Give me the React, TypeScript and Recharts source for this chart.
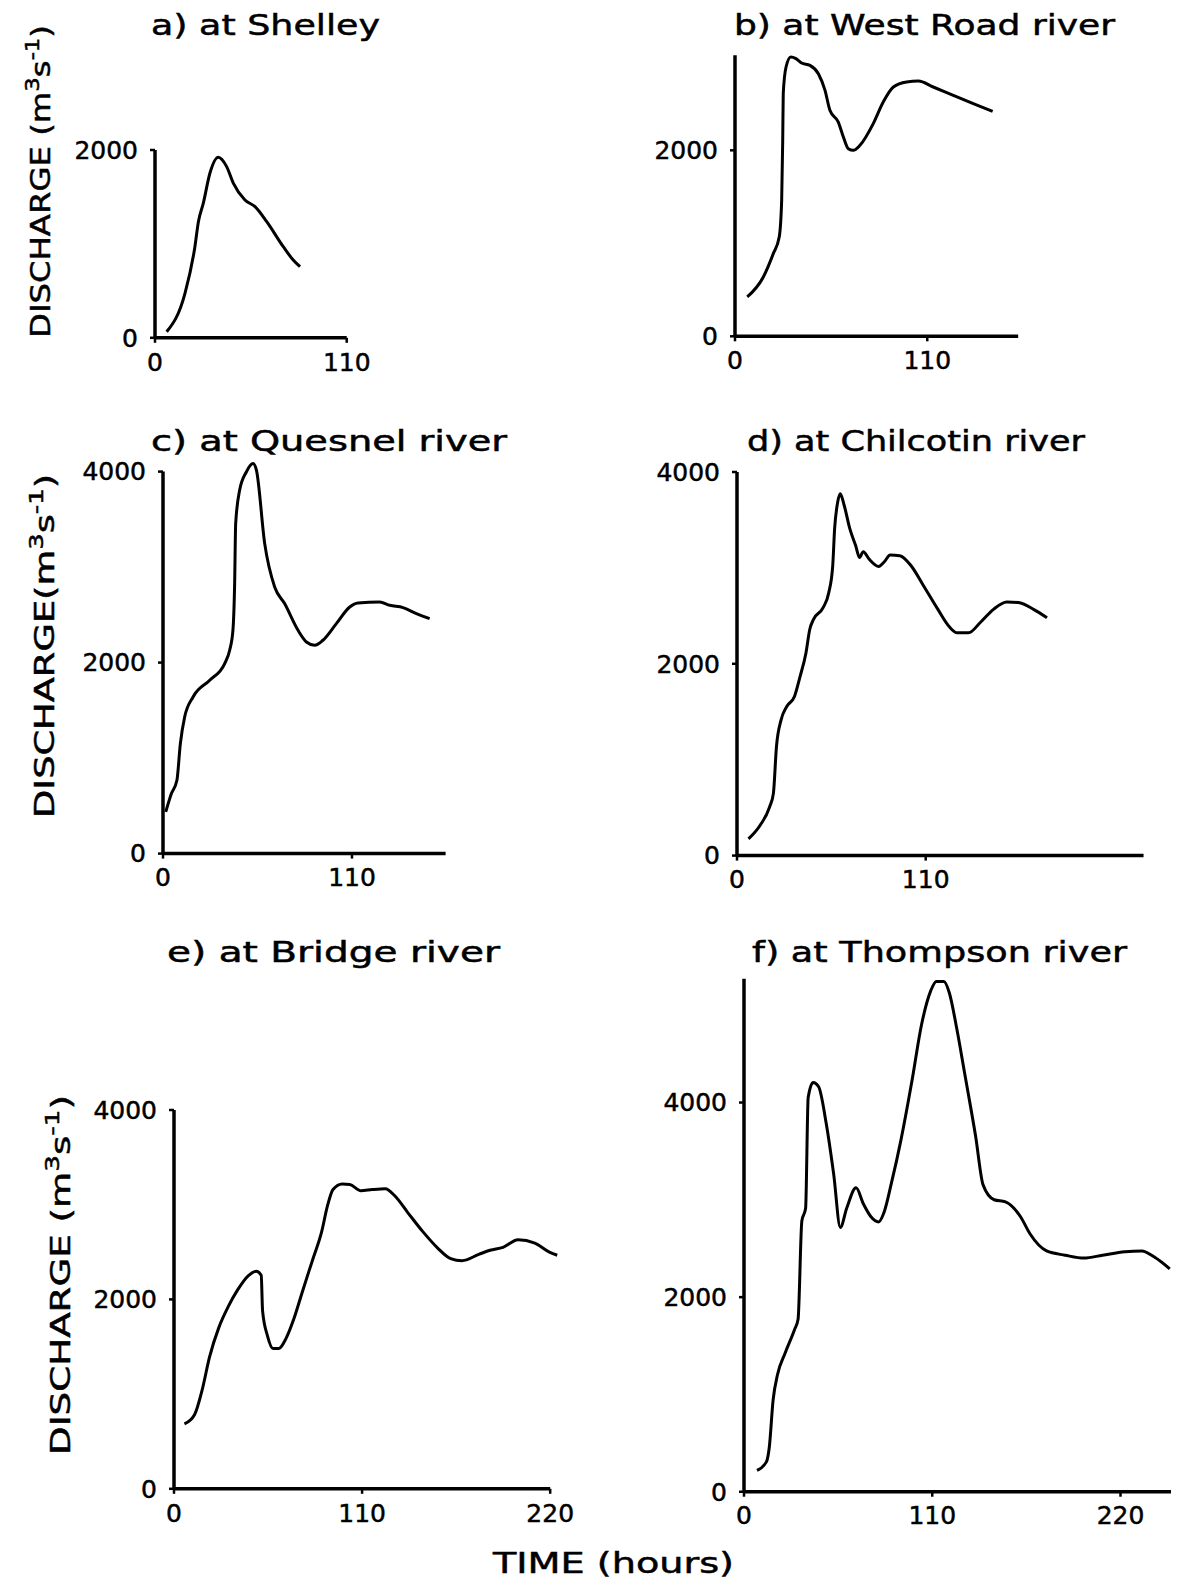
import React from 'react';
import { LineChart, Line, XAxis, YAxis, ReferenceLine } from 'recharts';

const FONT = '"DejaVu Sans", "Liberation Sans", sans-serif';

// a) Shelley
const shelleyHours = [6.7, 17.2, 22.9, 24.9, 27.7, 31.5, 36.3, 41.1, 45, 51.6, 57.4, 64.1, 73.6, 79.3, 83.2];
const shelleyFlow = [64, 473, 970, 1237, 1432, 1752, 1922, 1823, 1645, 1468, 1397, 1237, 970, 828, 757];

// b) West Road river
const westRoadHours = [7, 16.2, 21.9, 25.3, 26.7, 27.3, 27.6, 29.2, 31.9, 34.9, 38.1, 42.9, 47.7, 51.5, 54.3, 59.1, 62, 64.8, 67.7, 71.5, 79.1, 84.8, 90.6, 98.2, 104.9, 113.4, 124.9, 136.3, 147.4];
const westRoadFlow = [423, 638, 889, 1068, 1462, 2108, 2609, 2896, 3004, 2986, 2939, 2914, 2824, 2645, 2430, 2304, 2143, 2018, 2000, 2054, 2287, 2519, 2681, 2735, 2745, 2681, 2591, 2502, 2419];

// c) Quesnel river
const quesnelHours = [1.6, 4.9, 8.1, 10.1, 12.6, 17.5, 27.2, 35.9, 38.8, 40.7, 41.7, 42.3, 44.6, 48.5, 52.4, 54.4, 59.2, 65, 70.8, 78.6, 83.5, 88.3, 93.1, 100.9, 108.7, 113.5, 126.1, 132, 139.7, 147.5, 155.2];
const quesnelFlow = [436, 628, 768, 1152, 1430, 1640, 1815, 1990, 2129, 2338, 2827, 3455, 3804, 3996, 4084, 4014, 3246, 2792, 2618, 2338, 2216, 2181, 2234, 2408, 2582, 2624, 2635, 2600, 2576, 2513, 2461];

// d) Chilcotin river
const chilcotinHours = [6.7, 13.4, 19, 21.2, 23, 25.7, 29, 33.5, 36.8, 40.2, 42.4, 44.6, 50.2, 53.5, 55.8, 56.9, 58.7, 60.2, 62.5, 65.8, 69.2, 71.4, 73.6, 77, 82.6, 85.9, 89.3, 94.9, 101.5, 108.2, 117.1, 123.8, 128.3, 135, 141.7, 149.5, 157.3, 164, 172.9, 180.7];
const chilcotinFlow = [175, 314, 507, 646, 1135, 1415, 1555, 1659, 1869, 2113, 2358, 2463, 2585, 2742, 3022, 3406, 3686, 3773, 3651, 3406, 3231, 3109, 3169, 3092, 3015, 3064, 3134, 3127, 3022, 2830, 2568, 2386, 2323, 2323, 2428, 2568, 2645, 2638, 2568, 2480];

// e) Bridge river
const bridgeHours = [6.1, 12, 16.4, 20.8, 26.2, 31.7, 37.2, 43.7, 48.1, 51, 51.8, 54.7, 57.9, 61.2, 65.6, 70, 75.4, 80.9, 86.4, 89.7, 93, 98.4, 102.8, 109.3, 115.9, 123.6, 129.1, 136.7, 145.4, 154.2, 161.8, 168.4, 178.2, 184.8, 192.4, 201.2, 211, 219.8, 224.1];
const bridgeFlow = [685, 782, 1039, 1392, 1702, 1923, 2100, 2254, 2298, 2254, 1879, 1613, 1481, 1481, 1591, 1790, 2100, 2409, 2718, 2984, 3160, 3218, 3213, 3147, 3160, 3169, 3094, 2917, 2718, 2542, 2431, 2409, 2475, 2519, 2550, 2630, 2595, 2497, 2466];

// f) Thompson river
const thompsonHours = [7.6, 13.1, 14.8, 17, 19.6, 24, 29.5, 31.6, 33.8, 36, 37.5, 40.4, 43.6, 48, 52.4, 56.3, 60, 65.5, 69.8, 74.2, 78.6, 81.8, 86.2, 91.7, 98.2, 103.7, 109.1, 112.4, 116.8, 120, 124.4, 128.8, 131, 135.3, 139.7, 146.2, 152.8, 161.6, 167.1, 176.8, 187.7, 198.6, 209.5, 222.6, 232.4, 240, 248.8];
const thompsonFlow = [219, 307, 460, 942, 1205, 1424, 1665, 1774, 2782, 2913, 4053, 4206, 4162, 3790, 3264, 2716, 2913, 3124, 2957, 2826, 2773, 2870, 3176, 3614, 4228, 4797, 5148, 5244, 5244, 5126, 4753, 4315, 4096, 3658, 3154, 3001, 2979, 2826, 2651, 2475, 2431, 2401, 2431, 2467, 2475, 2410, 2291];

const hourTicksShort = [0, 110];
const hourTicksLong = [0, 110, 220];
const flowTicksLow = [0, 2000];
const flowTicksHigh = [0, 2000, 4000];

type PanelSpec = {
  hours: number[];
  flow: number[];
  xMax: number;
  yMax: number;
  xAxisEnd: number;
  yAxisTop: number;
  xTicks: number[];
  yTicks: number[];
  x0: number;
  y0: number;
  pxPerHour: number;
  pxPerUnit: number;
};

const panels: PanelSpec[] = [
  { hours: shelleyHours, flow: shelleyFlow, xMax: 110, yMax: 2000, xAxisEnd: 110, yAxisTop: 2000, xTicks: hourTicksShort, yTicks: flowTicksLow, x0: 155, y0: 337.5, pxPerHour: 1.743, pxPerUnit: 0.0939 },
  { hours: westRoadHours, flow: westRoadFlow, xMax: 162, yMax: 3025, xAxisEnd: 162, yAxisTop: 3022, xTicks: hourTicksShort, yTicks: flowTicksLow, x0: 735, y0: 336, pxPerHour: 1.748, pxPerUnit: 0.093 },
  { hours: quesnelHours, flow: quesnelFlow, xMax: 164.5, yMax: 4090, xAxisEnd: 164.5, yAxisTop: 4000, xTicks: hourTicksShort, yTicks: flowTicksHigh, x0: 163.3, y0: 853.3, pxPerHour: 1.718, pxPerUnit: 0.0955 },
  { hours: chilcotinHours, flow: chilcotinFlow, xMax: 237, yMax: 4000, xAxisEnd: 237, yAxisTop: 4000, xTicks: hourTicksShort, yTicks: flowTicksHigh, x0: 736.9, y0: 856, pxPerHour: 1.7155, pxPerUnit: 0.0959 },
  { hours: bridgeHours, flow: bridgeFlow, xMax: 225, yMax: 4000, xAxisEnd: 220, yAxisTop: 4000, xTicks: hourTicksLong, yTicks: flowTicksHigh, x0: 173.6, y0: 1489, pxPerHour: 1.71, pxPerUnit: 0.0947 },
  { hours: thompsonHours, flow: thompsonFlow, xMax: 250, yMax: 5280, xAxisEnd: 249.5, yAxisTop: 5272, xTicks: hourTicksLong, yTicks: flowTicksHigh, x0: 744, y0: 1492, pxPerHour: 1.7114, pxPerUnit: 0.0973 },
];

const YW = 110;
const XH = 50;
const MT = 26;
const MR = 40;
const tickStyle = { fill: '#000', fontSize: 25, fontFamily: FONT, stroke: '#000', strokeWidth: 0.5 };

function Panel({ spec }: { spec: PanelSpec }) {
  const plotW = spec.xMax * spec.pxPerHour;
  const plotH = spec.yMax * spec.pxPerUnit;
  const data = spec.hours.map((t, i) => ({ t, q: spec.flow[i] }));
  return (
    <div style={{ position: 'absolute', left: spec.x0 - YW, top: spec.y0 - plotH - MT }}>
      <LineChart
        width={YW + plotW + MR}
        height={MT + plotH + XH}
        data={data}
        margin={{ top: MT, right: MR, bottom: 0, left: 0 }}
      >
        <XAxis
          type="number"
          dataKey="t"
          domain={[0, spec.xMax]}
          ticks={spec.xTicks}
          height={XH}
          axisLine={false}
          tickSize={5}
          tickMargin={10}
          tickLine={{ stroke: '#000', strokeWidth: 2.5 }}
          tick={tickStyle}
          interval={0}
        />
        <YAxis
          type="number"
          domain={[0, spec.yMax]}
          ticks={spec.yTicks}
          width={YW}
          axisLine={false}
          tickSize={5}
          tickMargin={12}
          tickLine={{ stroke: '#000', strokeWidth: 2.5 }}
          tick={tickStyle}
          interval={0}
        />
        <ReferenceLine segment={[{ x: 0, y: 0 }, { x: spec.xAxisEnd, y: 0 }]} stroke="#000" strokeWidth={3.5} />
        <ReferenceLine segment={[{ x: 0, y: 0 }, { x: 0, y: spec.yAxisTop }]} stroke="#000" strokeWidth={3.5} />
        <Line
          dataKey="q"
          type="monotone"
          dot={false}
          stroke="#000"
          strokeWidth={3}
          isAnimationActive={false}
        />
      </LineChart>
    </div>
  );
}

const titles = [
  { text: 'a) at Shelley', x: 151, y: 35, len: 229 },
  { text: 'b) at West Road river', x: 734, y: 35, len: 381 },
  { text: 'c) at Quesnel river', x: 151, y: 451, len: 356 },
  { text: 'd) at Chilcotin river', x: 747, y: 451, len: 338 },
  { text: 'e) at Bridge river', x: 167, y: 962, len: 333 },
  { text: 'f) at Thompson river', x: 752, y: 962, len: 375 },
];

const flowLabels = [
  { gap: ' ', x: 50, y: 338, len: 313 },
  { gap: '', x: 54, y: 818, len: 344 },
  { gap: ' ', x: 70, y: 1455, len: 360 },
];

function FlowLabel({ gap, x, y, len }: { gap: string; x: number; y: number; len: number }) {
  return (
    <text
      transform={`translate(${x},${y}) rotate(-90)`}
      fontFamily={FONT}
      fontSize={27}
      fill="#000"
      stroke="#000"
      strokeWidth={0.5}
      textLength={len}
      lengthAdjust="spacingAndGlyphs"
    >
      <tspan>{`DISCHARGE${gap}(m`}</tspan>
      <tspan dy={-11} fontSize={19}>3</tspan>
      <tspan dy={11}>s</tspan>
      <tspan dy={-11} fontSize={19}>-1</tspan>
      <tspan dy={11}>)</tspan>
    </text>
  );
}

export default function App() {
  return (
    <div style={{ position: 'absolute', left: 0, top: 0, width: 1181, height: 1583, background: '#fff' }}>
      {panels.map((p, i) => (
        <Panel key={i} spec={p} />
      ))}
      <svg
        width={1181}
        height={1583}
        style={{ position: 'absolute', left: 0, top: 0, pointerEvents: 'none' }}
      >
        {titles.map((t, i) => (
          <text
            key={i}
            x={t.x}
            y={t.y}
            fontFamily={FONT}
            fontSize={28}
            fill="#000"
            stroke="#000"
            strokeWidth={0.5}
            textLength={t.len}
            lengthAdjust="spacingAndGlyphs"
          >
            {t.text}
          </text>
        ))}
        {flowLabels.map((l, i) => (
          <FlowLabel key={i} {...l} />
        ))}
        <text
          x={493}
          y={1573}
          fontFamily={FONT}
          fontSize={28}
          fill="#000"
          stroke="#000"
          strokeWidth={0.5}
          textLength={241}
          lengthAdjust="spacingAndGlyphs"
        >
          TIME (hours)
        </text>
      </svg>
    </div>
  );
}
